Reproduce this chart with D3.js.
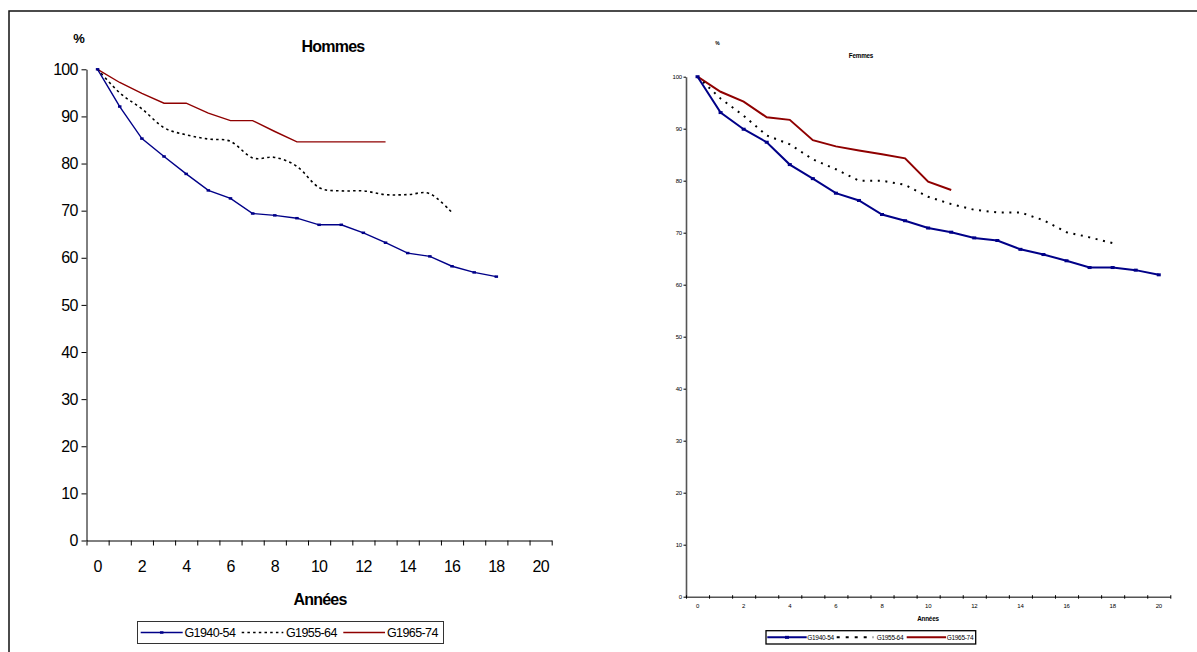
<!DOCTYPE html>
<html>
<head>
<meta charset="utf-8">
<script src="https://cdn.jsdelivr.net/npm/d3@7"></script>
<style>
  html, body { margin: 0; padding: 0; background: #fff; }
  svg { display: block; font-family: "Liberation Sans", Arial, sans-serif; }
</style>
</head>
<body>
<svg id="chart" width="1197" height="652"></svg>
<script>
// ---------- DATA ----------
const years = d3.range(0, 21);                 // categories 0..20
const xTickLabels = [0, 2, 4, 6, 8, 10, 12, 14, 16, 18, 20];
const yTickLabels = [0, 10, 20, 30, 40, 50, 60, 70, 80, 90, 100];
const seriesNames = ["G1940-54", "G1955-64", "G1965-74"];

// Hommes
const hommes1940 = [100, 92.1, 85.3, 81.5, 77.8, 74.3, 72.6, 69.4, 69.0, 68.4, 67.0, 67.0, 65.3, 63.2, 61.0, 60.3, 58.2, 56.9, 56.0];
const hommes1955 = [100, 95.0, 91.6, 87.6, 86.1, 85.2, 84.7, 81.2, 81.3, 79.4, 74.9, 74.2, 74.2, 73.4, 73.4, 73.6, 69.6];
const hommes1965 = [100, 97.2, 94.9, 92.8, 92.8, 90.7, 89.1, 89.1, 86.8, 84.6, 84.6, 84.6, 84.6, 84.6];

// Femmes
const femmes1940 = [100, 93.1, 89.9, 87.4, 83.1, 80.4, 77.6, 76.2, 73.5, 72.3, 70.9, 70.1, 69.0, 68.5, 66.8, 65.8, 64.6, 63.3, 63.3, 62.8, 61.9];
const femmes1955 = [100, 95.8, 92.5, 88.7, 87.0, 84.1, 82.2, 80.0, 80.0, 79.2, 76.9, 75.5, 74.4, 73.9, 73.9, 72.4, 70.1, 69.1, 68.0];
const femmes1965 = [100, 97.1, 95.2, 92.2, 91.7, 87.8, 86.6, 85.8, 85.1, 84.3, 79.8, 78.2];

// ---------- STYLES ----------
const BLUE = "#000088", RED = "#8f0000", BLACK = "#000";

const svg = d3.select("#chart");

// outer frame (extends beyond the viewport on right/bottom)
svg.append("rect").attr("x", 9).attr("y", 11).attr("width", 1300).attr("height", 800)
  .attr("fill", "none").attr("stroke", "#111").attr("stroke-width", 1.5);

function drawPanel(cfg) {
  const g = svg.append("g");
  const x = d3.scaleBand().domain(years).range([cfg.x0, cfg.x1]).paddingInner(0).paddingOuter(0);
  const xEdge = d3.scaleLinear().domain([0, years.length]).range([cfg.x0, cfg.x1]);
  const y = d3.scaleLinear().domain([0, 100]).range([cfg.yBottom, cfg.yTop]);
  const cx = i => x(i) + x.bandwidth() / 2;

  // Y axis
  const yAx = g.append("g").attr("transform", `translate(${cfg.x0},0)`)
    .call(d3.axisLeft(y).tickValues(yTickLabels).tickSize(cfg.yTick).tickPadding(cfg.yPad).tickSizeOuter(0));
  yAx.select(".domain").attr("stroke", cfg.axisColor).attr("stroke-width", cfg.axisWidth);
  yAx.selectAll(".tick line").attr("stroke", BLACK).attr("stroke-width", 1);
  yAx.selectAll(".tick text").attr("font-size", cfg.tickFont).attr("fill", "#000")
    .attr("letter-spacing", cfg.letterSpacing).attr("font-family", "Liberation Sans, Arial, sans-serif");

  // X axis: ticks at category edges
  const xAx = g.append("g").attr("transform", `translate(0,${cfg.yBottom})`)
    .call(d3.axisBottom(xEdge).tickValues(d3.range(0, years.length + 1)).tickSize(cfg.xTick).tickFormat("").tickSizeOuter(0));
  xAx.select(".domain").attr("stroke", cfg.axisColor).attr("stroke-width", cfg.axisWidth);
  xAx.selectAll(".tick line").attr("stroke", BLACK).attr("stroke-width", 1);
  if (cfg.xTickUp) xAx.selectAll(".tick line").attr("y1", -cfg.xTickUp);

  // X labels at category centres
  const xLab = g.append("g").attr("transform", `translate(0,${cfg.yBottom})`)
    .call(d3.axisBottom(x).tickValues(xTickLabels).tickSize(0).tickPadding(cfg.xPad));
  xLab.select(".domain").remove();
  xLab.selectAll(".tick text").attr("font-size", cfg.tickFont).attr("fill", "#000")
    .attr("letter-spacing", cfg.letterSpacing).attr("font-family", "Liberation Sans, Arial, sans-serif");

  // Titles
  g.append("text").attr("x", cfg.pctX).attr("y", cfg.pctY).attr("text-anchor", "middle")
    .attr("font-weight", "bold").attr("font-size", cfg.pctFont).text("%");
  g.append("text").attr("x", cfg.titleX).attr("y", cfg.titleY).attr("text-anchor", "middle")
    .attr("font-weight", "bold").attr("font-size", cfg.titleFont).attr("letter-spacing", cfg.letterSpacing).text(cfg.title);
  g.append("text").attr("x", cfg.xTitleX).attr("y", cfg.xTitleY).attr("text-anchor", "middle")
    .attr("font-weight", "bold").attr("font-size", cfg.titleFont).attr("letter-spacing", cfg.letterSpacing).text("Années");

  // Lines
  const lineStraight = d3.line().x((d, i) => cx(i)).y(d => y(d));
  const lineDotted = d3.line().x((d, i) => cx(i)).y(d => y(d))
    .curve(cfg.smoothDotted ? d3.curveCardinal.tension(0) : d3.curveLinear);

  g.append("path").datum(cfg.s1965).attr("d", lineStraight)
    .attr("fill", "none").attr("stroke", RED).attr("stroke-width", cfg.lineWidth);
  g.append("path").datum(cfg.s1955).attr("d", lineDotted)
    .attr("fill", "none").attr("stroke", BLACK).attr("stroke-width", cfg.dotWidth)
    .attr("stroke-dasharray", cfg.dash);
  g.append("path").datum(cfg.s1940).attr("d", lineStraight)
    .attr("fill", "none").attr("stroke", BLUE).attr("stroke-width", cfg.lineWidth);
  g.selectAll(".mk").data(cfg.s1940).enter().append("rect")
    .attr("x", (d, i) => cx(i) - cfg.mkW / 2).attr("y", d => y(d) - cfg.mkH / 2)
    .attr("width", cfg.mkW).attr("height", cfg.mkH).attr("fill", BLUE);

  // Legend
  const L = cfg.legend;
  const lg = g.append("g");
  lg.append("rect").attr("x", L.x).attr("y", L.y).attr("width", L.w).attr("height", L.h)
    .attr("fill", "#fff").attr("stroke", L.stroke).attr("stroke-width", L.sw);
  const ly = L.y + L.h / 2;
  const styles = [
    { c: BLUE, w: cfg.lineWidth, dash: null, mk: true },
    { c: BLACK, w: cfg.dotWidth, dash: L.dash, mk: false },
    { c: RED, w: cfg.lineWidth, dash: null, mk: false }
  ];
  seriesNames.forEach((name, k) => {
    const [a, b, t] = L.items[k];
    lg.append("line").attr("x1", a).attr("x2", b).attr("y1", ly).attr("y2", ly)
      .attr("stroke", styles[k].c).attr("stroke-width", styles[k].w)
      .attr("stroke-dasharray", styles[k].dash);
    if (styles[k].mk) lg.append("rect").attr("x", (a + b) / 2 - cfg.mkW / 2).attr("y", ly - cfg.mkH / 2)
      .attr("width", cfg.mkW).attr("height", cfg.mkH).attr("fill", BLUE);
    lg.append("text").attr("x", t).attr("y", ly).attr("dy", "0.35em")
      .attr("font-size", L.font).attr("letter-spacing", L.ls).text(name);
  });
}

// Hommes panel
drawPanel({
  x0: 86.5, x1: 551.7, yTop: 69.3, yBottom: 540.5,
  axisColor: "#000", axisWidth: 1, yTick: 5, yPad: 4, xTick: 5, xPad: 20,
  tickFont: 16, letterSpacing: -0.8,
  pctX: 79, pctY: 43, pctFont: 13,
  title: "Hommes", titleX: 333, titleY: 51.5, titleFont: 16,
  xTitleX: 320, xTitleY: 605,
  s1940: hommes1940, s1955: hommes1955, s1965: hommes1965,
  smoothDotted: true, lineWidth: 1.4, dotWidth: 1.6, dash: "2.5,3.2",
  mkW: 3.5, mkH: 2.5,
  legend: { x: 137.5, y: 621.5, w: 306, h: 22, stroke: "#333", sw: 1, font: 12.5, ls: -0.6, dash: "2.5,3.2",
    items: [[140.7, 182.7, 184.5], [241.7, 283.3, 286], [343.3, 385, 387]] }
});

// Femmes panel
drawPanel({
  x0: 686, x1: 1170.3, yTop: 76.7, yBottom: 596.7,
  axisColor: "#555", axisWidth: 1.6, yTick: 2.5, yPad: 1.5, xTick: 2, xTickUp: 1.5, xPad: 7,
  tickFont: 6, letterSpacing: -0.2,
  pctX: 717.5, pctY: 44.5, pctFont: 5,
  title: "Femmes", titleX: 861, titleY: 57.5, titleFont: 6.3,
  xTitleX: 928, xTitleY: 621,
  s1940: femmes1940, s1955: femmes1955, s1965: femmes1965,
  smoothDotted: false, lineWidth: 2, dotWidth: 2, dash: "2,5.6",
  mkW: 4, mkH: 3,
  legend: { x: 766, y: 630.7, w: 209.7, h: 13.3, stroke: "#000", sw: 1.3, font: 6.5, ls: -0.3, dash: "3,6",
    items: [[767.3, 806.7, 807.3], [836.7, 873.3, 876.7], [906.7, 946, 946.7]] }
});
</script>
</body>
</html>
